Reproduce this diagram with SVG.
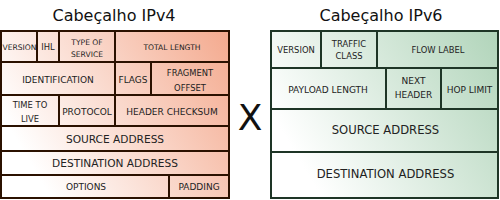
<svg xmlns="http://www.w3.org/2000/svg" width="500" height="200" viewBox="0 0 500 200">
<defs>
<linearGradient id="g4" gradientUnits="userSpaceOnUse" x1="0" y1="175" x2="230" y2="40">
<stop offset="0.12" stop-color="#ffffff"/>
<stop offset="1" stop-color="#f4ab90"/>
</linearGradient>
<linearGradient id="g6" gradientUnits="userSpaceOnUse" x1="271" y1="175" x2="499" y2="40">
<stop offset="0.12" stop-color="#ffffff"/>
<stop offset="1" stop-color="#b2d5bb"/>
</linearGradient>
</defs>
<style>
text{font-family:"DejaVu Sans","Liberation Sans",sans-serif;text-anchor:middle;fill:#222}
.t{font-size:16px;fill:#111}
.v4 line,.v4 rect{stroke:#2b1100;stroke-width:2}
.v6 line,.v6 rect{stroke:#1e3526;stroke-width:2}
.s7{font-size:7.6px}
.s8{font-size:8.4px}
.s9{font-size:9px}
.s10{font-size:10.6px}
.s12{font-size:11.6px}
</style>
<text class="t" x="114" y="21">Cabeçalho IPv4</text>
<text class="t" x="381" y="21">Cabeçalho IPv6</text>
<text x="250" y="130" style="font-size:36px;fill:#111">X</text>
<g id="ipv4" class="v4">
<rect x="1" y="31" width="228" height="167" fill="url(#g4)"/>
<g id="v4-lines">
<line x1="1" y1="62" x2="229" y2="62"/>
<line x1="1" y1="95" x2="229" y2="95"/>
<line x1="1" y1="126" x2="229" y2="126"/>
<line x1="1" y1="151" x2="229" y2="151"/>
<line x1="1" y1="175" x2="229" y2="175"/>
<line x1="37" y1="31" x2="37" y2="62"/>
<line x1="59" y1="31" x2="59" y2="62"/>
<line x1="115" y1="31" x2="115" y2="126"/>
<line x1="151" y1="62" x2="151" y2="95"/>
<line x1="59" y1="95" x2="59" y2="126"/>
<line x1="169" y1="175" x2="169" y2="198"/>
</g>
<g id="v4-version"><text class="s7" x="19.5" y="49.5">VERSION</text></g>
<g id="v4-ihl"><text class="s8" x="48" y="49.5">IHL</text></g>
<g id="v4-tos"><text class="s7" x="87" y="45">TYPE OF</text><text class="s7" x="87" y="57">SERVICE</text></g>
<g id="v4-total"><text class="s7" x="172" y="49.5">TOTAL LENGTH</text></g>
<g id="v4-id"><text class="s9" x="58" y="83">IDENTIFICATION</text></g>
<g id="v4-flags"><text class="s9" x="133" y="83">FLAGS</text></g>
<g id="v4-frag"><text class="s8" x="190" y="76">FRAGMENT</text><text class="s8" x="190" y="91">OFFSET</text></g>
<g id="v4-ttl"><text class="s8" x="30" y="108">TIME TO</text><text class="s8" x="30" y="121.5">LIVE</text></g>
<g id="v4-proto"><text class="s9" x="87" y="115">PROTOCOL</text></g>
<g id="v4-cksum"><text class="s9" x="172" y="115">HEADER CHECKSUM</text></g>
<g id="v4-src"><text class="s10" x="115" y="143">SOURCE ADDRESS</text></g>
<g id="v4-dst"><text class="s10" x="115" y="167">DESTINATION ADDRESS</text></g>
<g id="v4-opt"><text class="s9" x="86" y="190">OPTIONS</text></g>
<g id="v4-pad"><text class="s9" x="199" y="190">PADDING</text></g>
</g>
<g id="ipv6" class="v6">
<rect x="271" y="31" width="227" height="167" fill="url(#g6)"/>
<g id="v6-lines">
<line x1="271" y1="68" x2="498" y2="68"/>
<line x1="271" y1="109" x2="498" y2="109"/>
<line x1="271" y1="152" x2="498" y2="152"/>
<line x1="321" y1="31" x2="321" y2="68"/>
<line x1="377" y1="31" x2="377" y2="68"/>
<line x1="386" y1="68" x2="386" y2="109"/>
<line x1="441" y1="68" x2="441" y2="109"/>
</g>
<g id="v6-version"><text class="s8" x="296" y="53">VERSION</text></g>
<g id="v6-tc"><text class="s8" x="349" y="47">TRAFFIC</text><text class="s8" x="349" y="59">CLASS</text></g>
<g id="v6-flow"><text class="s8" x="438" y="53">FLOW LABEL</text></g>
<g id="v6-payload"><text class="s9" x="328" y="93">PAYLOAD LENGTH</text></g>
<g id="v6-next"><text class="s9" x="413.5" y="84">NEXT</text><text class="s9" x="413.5" y="98">HEADER</text></g>
<g id="v6-hop"><text class="s9" x="469.5" y="93">HOP LIMIT</text></g>
<g id="v6-src"><text class="s12" x="385.5" y="134">SOURCE ADDRESS</text></g>
<g id="v6-dst"><text class="s12" x="385.5" y="178">DESTINATION ADDRESS</text></g>
</g>
</svg>
